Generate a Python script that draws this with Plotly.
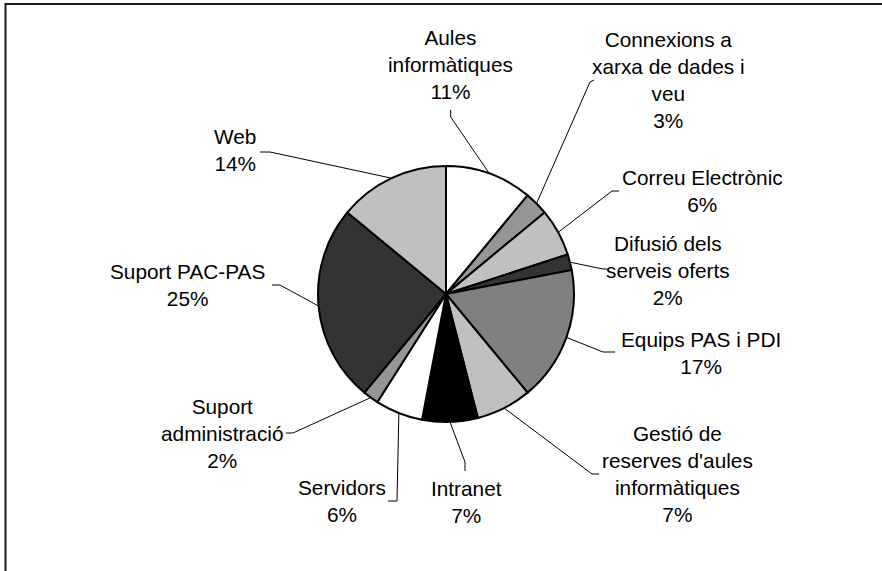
import math
import plotly.graph_objects as go

# --- data -------------------------------------------------------------
categories = [
    "Aules informàtiques",
    "Connexions a xarxa de dades i veu",
    "Correu Electrònic",
    "Difusió dels serveis oferts",
    "Equips PAS i PDI",
    "Gestió de reserves d'aules informàtiques",
    "Intranet",
    "Servidors",
    "Suport administració",
    "Suport PAC-PAS",
    "Web",
]
percent = [11, 3, 6, 2, 17, 7, 7, 6, 2, 25, 14]

# category names as they are wrapped on the chart
wrapped = [
    "Aules<br>informàtiques",
    "Connexions a<br>xarxa de dades i<br>veu",
    "Correu Electrònic",
    "Difusió dels<br>serveis oferts",
    "Equips PAS i PDI",
    "Gestió de<br>reserves d'aules<br>informàtiques",
    "Intranet",
    "Servidors",
    "Suport<br>administració",
    "Suport PAC-PAS",
    "Web",
]

fills = ["#FFFFFF", "#969696", "#C0C0C0", "#333333", "#808080", "#C0C0C0",
         "#000000", "#FFFFFF", "#969696", "#333333", "#C0C0C0"]

# --- layout geometry (pixels, origin top-left) -------------------------
W, H = 882, 571
CX, CY, R = 446, 294, 128

# label block centres
label_pos = [(450, 64), (668, 80), (702, 190.5), (668, 270), (701, 352.5),
             (677, 474), (466, 501.5), (342, 501), (222, 433.5), (187, 285),
             (235, 150)]
# leader line: bend point and end point next to each label
leader_bend = [(450.7, 117), (590, 82), (612, 191), (603, 269), (603, 352),
               (592, 474), (465, 462), (397, 501), (293, 433), (280, 285),
               (270, 152)]
leader_end = [(450.7, 110), (594, 80), (619, 191), (607, 269), (615, 352),
              (599, 474), (465, 471), (388, 501), (286, 433), (272, 285),
              (260, 152)]

FONT = "Liberation Sans, Arial, Helvetica, sans-serif"
FS = 20.8

fig = go.Figure()

fig.add_trace(go.Pie(
    labels=categories,
    values=percent,
    sort=False,
    direction="clockwise",
    rotation=0,
    textinfo="none",
    hoverinfo="label+percent",
    showlegend=False,
    marker=dict(colors=fills, line=dict(color="#000000", width=2)),
    domain=dict(x=[(CX - R) / W, (CX + R) / W],
                y=[(H - CY - R) / H, (H - CY + R) / H]),
))

# leader lines from each slice's mid-angle on the rim to its label
total = sum(percent)
cum = 0.0
lx, ly = [], []
for i, v in enumerate(percent):
    mid = (cum + v / 2) / total * 2 * math.pi
    cum += v
    ex = CX + R * math.sin(mid)
    ey = CY - R * math.cos(mid)
    bx, by = leader_bend[i]
    tx, ty = leader_end[i]
    lx += [ex, bx, tx, None]
    ly += [ey, by, ty, None]

fig.add_trace(go.Scatter(
    x=lx, y=ly, mode="lines",
    line=dict(color="#000000", width=1),
    hoverinfo="skip", showlegend=False,
))

for i, v in enumerate(percent):
    x, y = label_pos[i]
    fig.add_annotation(
        x=x, y=y, xref="x", yref="y",
        text=f"{wrapped[i]}<br>{v}%",
        showarrow=False, align="center",
        xanchor="center", yanchor="middle",
        font=dict(family=FONT, size=FS, color="#000000"),
    )

# chart frame (open on the right and bottom)
fig.add_shape(type="rect", xref="paper", yref="paper",
              x0=5.5 / W, x1=1.02, y0=-0.02, y1=1 - 4 / H,
              line=dict(color="#1a1a1a", width=2), layer="above")

fig.update_layout(
    width=W, height=H, autosize=False,
    margin=dict(l=0, r=0, t=0, b=0),
    paper_bgcolor="#FFFFFF", plot_bgcolor="#FFFFFF",
    xaxis=dict(range=[0, W], visible=False, fixedrange=True, domain=[0, 1]),
    yaxis=dict(range=[H, 0], visible=False, fixedrange=True, domain=[0, 1]),
    font=dict(family=FONT),
)

fig.write_html("out.html", config={"displayModeBar": False})
